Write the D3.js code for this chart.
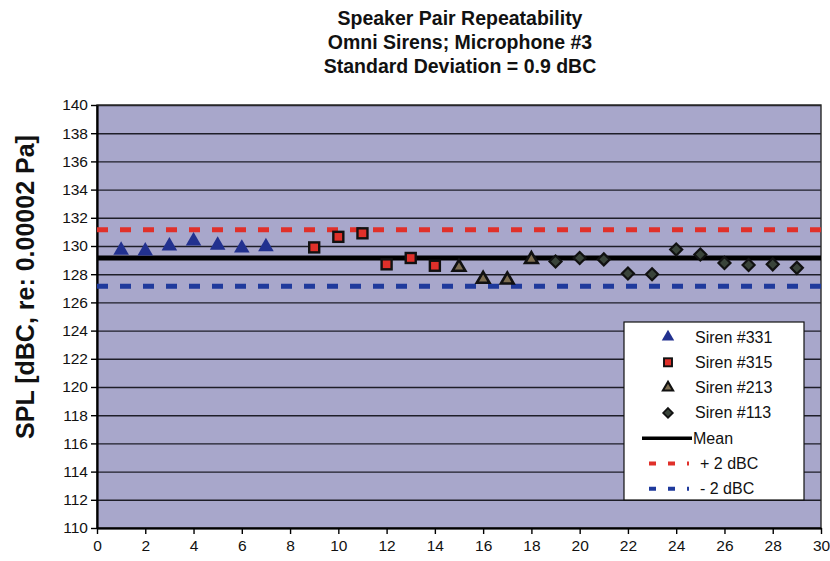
<!DOCTYPE html>
<html>
<head>
<meta charset="utf-8">
<script src="https://cdn.jsdelivr.net/npm/d3@7"></script>
<style>
  body { margin: 0; background: #fff; }
  svg { display: block; }
  text { font-family: Arial, "Liberation Sans", sans-serif; fill: #111; }
</style>
</head>
<body>
<div id="chart"></div>
<script>
// Data
const titleLines = ["Speaker Pair Repeatability", "Omni Sirens; Microphone #3", "Standard Deviation = 0.9 dBC"];
const yLabel = "SPL [dBC, re: 0.00002 Pa]";

const siren331 = [[1, 129.7], [2, 129.65], [3, 130.0], [4, 130.35], [5, 130.05], [6, 129.85], [7, 129.95]];
const siren315 = [[9, 129.9], [10, 130.65], [11, 130.9], [12, 128.7], [13, 129.15], [14, 128.6]];
const siren213 = [[15, 128.5], [16, 127.65], [17, 127.6], [18, 129.05]];
const siren113 = [[19, 128.9], [20, 129.15], [21, 129.05], [22, 128.05], [23, 128.0], [24, 129.75],
                  [25, 129.4], [26, 128.8], [27, 128.65], [28, 128.7], [29, 128.45]];
const meanValue = 129.15;
const bandOffset = 2;

const xTicks = d3.range(0, 31, 2);
const yTicks = d3.range(110, 141, 2);

const legendItems = ["Siren #331", "Siren #315", "Siren #213", "Siren #113", "Mean", "+ 2 dBC", "- 2 dBC"];

const COLORS = {
  plot: "#a8a7cb",
  grid: "#1e1e28",
  navy: "#22318f",
  red: "#e0302a",
  blue: "#1f3a9c",
  tan: "#7d6d50",
  dark: "#3a443a",
};

const width = 830, height = 561;
const margin = { top: 105, right: 9, bottom: 33, left: 97 };
const iw = width - margin.left - margin.right;
const ih = height - margin.top - margin.bottom;

const svg = d3.select("#chart").append("svg")
  .attr("width", width).attr("height", height);

// Titel
svg.append("g").selectAll("text").data(titleLines).join("text")
  .attr("x", 460).attr("y", (d, i) => 25 + i * 24)
  .attr("text-anchor", "middle")
  .style("font-family", "'Liberation Sans Narrow', 'Arial Narrow', Arial, sans-serif")
  .style("font-weight", "bold").style("font-size", "19.5px")
  .text(d => d);

svg.append("text")
  .attr("transform", `translate(34,287) rotate(-90)`)
  .attr("text-anchor", "middle")
  .style("font-weight", "bold").style("font-size", "25px")
  .text(yLabel);

const g = svg.append("g").attr("transform", `translate(${margin.left},${margin.top})`);

const x = d3.scaleLinear().domain([0, 30]).range([0, iw]);
const y = d3.scaleLinear().domain([110, 140]).range([ih, 0]);

g.append("rect").attr("width", iw).attr("height", ih).attr("fill", COLORS.plot);

// Rutenett
g.append("g")
  .call(d3.axisLeft(y).tickValues(yTicks).tickSize(-iw).tickFormat(""))
  .call(a => a.select(".domain").remove())
  .call(a => a.selectAll("line").attr("stroke", COLORS.grid).attr("stroke-width", 1.4));

g.append("rect").attr("width", iw).attr("height", ih)
  .attr("fill", "none").attr("stroke", "#2a2a2a").attr("stroke-width", 1.4);

// Akser
g.append("g")
  .call(d3.axisLeft(y).tickValues(yTicks).tickSize(6).tickPadding(3).tickSizeOuter(0))
  .call(a => a.select(".domain").attr("stroke", "#000").attr("stroke-width", 2.2))
  .call(a => a.selectAll(".tick line").attr("stroke", "#000").attr("stroke-width", 1.4))
  .call(a => a.selectAll("text").style("font-size", "15.5px").attr("fill", "#111"));

g.append("g").attr("transform", `translate(0,${ih})`)
  .call(d3.axisBottom(x).tickValues(xTicks).tickSize(6).tickPadding(6).tickSizeOuter(0))
  .call(a => a.select(".domain").attr("stroke", "#000").attr("stroke-width", 2.2))
  .call(a => a.selectAll(".tick line").attr("stroke", "#000").attr("stroke-width", 1.4))
  .call(a => a.selectAll("text").style("font-size", "15.5px").attr("fill", "#111"));

// Mean og ±2 dBC
function hline(v, color, dash, w) {
  g.append("line")
    .attr("x1", x(0)).attr("x2", x(30)).attr("y1", y(v)).attr("y2", y(v))
    .attr("stroke", color).attr("stroke-width", w)
    .attr("stroke-dasharray", dash);
}
hline(meanValue + bandOffset, COLORS.red, "11,12", 5);
hline(meanValue - bandOffset, COLORS.blue, "11,12", 5);
hline(meanValue, "#000", null, 5);

// Markører
const sym = (type, size) => d3.symbol().type(type).size(size)();
const diamond = "M0,-6L6,0L0,6L-6,0Z";
const markers = {
  "Siren #331": { data: siren331, draw: s => s.append("path").attr("d", sym(d3.symbolTriangle, 105)).attr("fill", COLORS.navy) },
  "Siren #315": { data: siren315, draw: s => s.append("rect").attr("x", -5).attr("y", -5).attr("width", 10).attr("height", 10)
      .attr("fill", COLORS.red).attr("stroke", "#111").attr("stroke-width", 2.4) },
  "Siren #213": { data: siren213, draw: s => s.append("path").attr("d", sym(d3.symbolTriangle, 70))
      .attr("fill", COLORS.tan).attr("stroke", "#111").attr("stroke-width", 2.6) },
  "Siren #113": { data: siren113, draw: s => s.append("path").attr("d", diamond)
      .attr("fill", COLORS.dark).attr("stroke", "#111").attr("stroke-width", 2.2) },
};

Object.values(markers).forEach(m => {
  g.append("g").selectAll("g").data(m.data).join("g")
    .attr("transform", d => `translate(${x(d[0])},${y(d[1])})`)
    .each(function () { m.draw(d3.select(this)); });
});

// Legende
const lg = svg.append("g").attr("transform", "translate(624,322)");
lg.append("rect").attr("width", 180).attr("height", 178)
  .attr("fill", "#fff").attr("stroke", "#111").attr("stroke-width", 1.2);

const ly = i => 15 + i * 25.3;
legendItems.forEach((name, i) => {
  const row = lg.append("g").attr("transform", `translate(0,${ly(i)})`);
  if (markers[name]) {
    const s = row.append("g").attr("transform", "translate(44,0) scale(0.8)");
    markers[name].draw(s);
    row.append("text").attr("x", 71).attr("y", 5.5).style("font-size", "16px").text(name);
  } else if (name === "Mean") {
    row.append("line").attr("x1", 18).attr("x2", 68).attr("stroke", "#000").attr("stroke-width", 3.5);
    row.append("text").attr("x", 69).attr("y", 5.5).style("font-size", "16px").text(name);
  } else {
    const c = name.startsWith("+") ? COLORS.red : COLORS.blue;
    row.append("line").attr("x1", 25).attr("x2", 65).attr("stroke", c).attr("stroke-width", 4)
      .attr("stroke-dasharray", "7,12");
    row.append("text").attr("x", 76).attr("y", 5.5).style("font-size", "16px").text(name);
  }
});
</script>
</body>
</html>
